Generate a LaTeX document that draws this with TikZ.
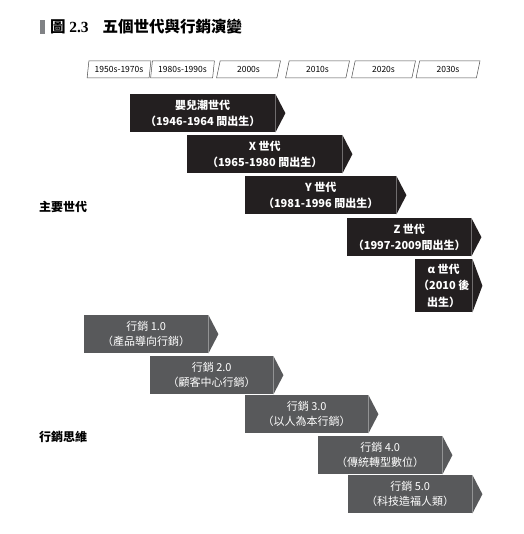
\documentclass[tikz,border=0pt]{standalone}
\usepackage{fontspec}
\setmainfont{Noto Sans CJK TC}
\newfontfamily\titleserif{Liberation Serif}
\usetikzlibrary{shapes.geometric}
\definecolor{gendark}{HTML}{231F20}
\definecolor{mktgray}{HTML}{58595B}
\definecolor{bargray}{HTML}{808285}
\tikzset{
  era/.style={draw=black!70,line width=0.5pt,trapezium,trapezium left angle=77,
    trapezium right angle=103,trapezium stretches=true,minimum width=64pt,
    minimum height=17pt,inner sep=0pt,font=\fontsize{8.5}{9}\selectfont},
  gen/.style={fill=gendark,text=white,anchor=north west,inner sep=0pt,align=center,
    minimum height=38pt,font=\fontsize{11}{16.5}\selectfont\bfseries},
  mkt/.style={fill=mktgray,text=white,anchor=north west,inner sep=0pt,align=center,
    minimum height=38pt,font=\fontsize{11}{15}\selectfont},
  side/.style={font=\fontsize{12}{14}\selectfont\bfseries},
}
\begin{document}
\begin{tikzpicture}[x=1pt,y=-1pt]
\useasboundingbox (0,0) rectangle (523,534);
% title
\fill[bargray] (40,20) rectangle (45,34);
\node[anchor=west,inner sep=0pt,font=\fontsize{15.5}{18}\selectfont\bfseries] (title) at (50,27)
  {圖 {\titleserif 2.3}\hspace{0.9em}五個世代與行銷演變};
% timeline
\foreach \x/\t [count=\i] in {119/1950s-1970s,182.5/1980s-1990s,248.5/2000s,317.5/2010s,383.5/2020s,448/2030s}
  \node[era] (t\i) at (\x,69.5) {\t};
% generations
\node[gen,minimum width=145pt] (boom) at (130,94) {嬰兒潮世代\\（1946-1964 間出生）};
\node[gen,minimum width=155pt] (genx) at (187,135) {X 世代\\（1965-1980 間出生）};
\node[gen,minimum width=151pt] (geny) at (245,176) {Y 世代\\（1981-1996 間出生）};
\node[gen,minimum width=124pt] (genz) at (347,218) {Z 世代\\（1997-2009間出生）};
\node[gen,minimum width=57pt,minimum height=53pt] (gena) at (415,259) {α 世代\\（2010 後\\出生）};
\foreach \n in {boom,genx,geny,genz,gena}
  \fill[gendark] (\n.north east) -- ([xshift=10pt]\n.east) -- (\n.south east) -- cycle;
% marketing
\node[mkt,minimum width=124pt] (m1) at (84,315) {行銷 1.0\\（產品導向行銷）};
\node[mkt,minimum width=123pt] (m2) at (150,356) {行銷 2.0\\（顧客中心行銷）};
\node[mkt,minimum width=123pt] (m3) at (245,395) {行銷 3.0\\（以人為本行銷）};
\node[mkt,minimum width=124pt] (m4) at (318,436) {行銷 4.0\\（傳統轉型數位）};
\node[mkt,minimum width=124pt] (m5) at (348,475) {行銷 5.0\\（科技造福人類）};
\foreach \n in {m1,m2,m3,m4,m5}
  \fill[mktgray] (\n.north east) -- ([xshift=10pt]\n.east) -- (\n.south east) -- cycle;
% side labels
\node[side] (genlab) at (63,207) {主要世代};
\node[side] (mktlab) at (63,437) {行銷思維};
\end{tikzpicture}
\end{document}
